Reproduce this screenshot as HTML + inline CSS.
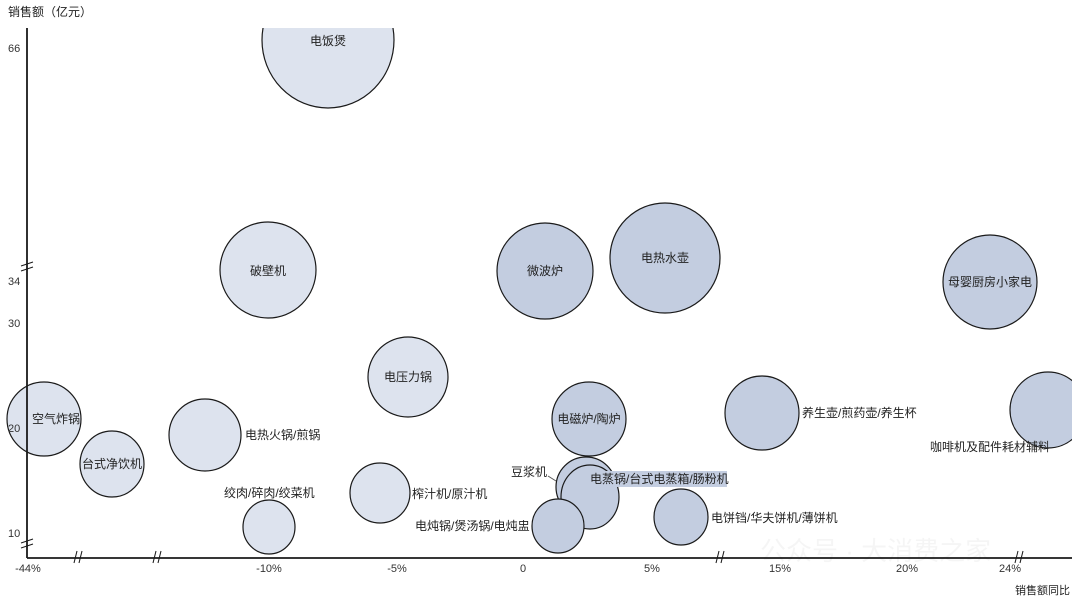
<!DOCTYPE html>
<html><head><meta charset="utf-8"><style>
html,body{margin:0;padding:0;background:#fff;}
svg{display:block;font-family:"Liberation Sans","Noto Sans CJK SC",sans-serif;}
</style></head><body>
<svg width="1080" height="605" viewBox="0 0 1080 605" xmlns="http://www.w3.org/2000/svg">
<defs><clipPath id="c"><rect x="0" y="28" width="1072" height="540"/></clipPath></defs>
<text x="8" y="16" font-size="12" fill="#222">销售额（亿元）</text>
<g clip-path="url(#c)" stroke="#1a1a1a" stroke-width="1.2">
<g fill="#dde3ee">
<ellipse cx="328" cy="40" rx="66" ry="68"/>
<circle cx="268" cy="270" r="48"/>
<circle cx="408" cy="377" r="40"/>
<circle cx="44" cy="419" r="37"/>
<circle cx="205" cy="435" r="36"/>
<ellipse cx="112" cy="464" rx="32" ry="33"/>
<circle cx="380" cy="493" r="30"/>
<ellipse cx="269" cy="527" rx="26" ry="27"/>
</g>
<g fill="#c3cde0">
<circle cx="545" cy="271" r="48"/>
<circle cx="665" cy="258" r="55"/>
<circle cx="990" cy="282" r="47"/>
<circle cx="589" cy="419" r="37"/>
<circle cx="762" cy="413" r="37"/>
<circle cx="1048" cy="410" r="38"/>
<circle cx="586" cy="487" r="30"/>
<ellipse cx="590" cy="497" rx="29" ry="32"/>
<ellipse cx="558" cy="526" rx="26" ry="27"/>
<ellipse cx="681" cy="517" rx="27" ry="28"/>
</g>
</g>
<line x1="548" y1="476" x2="556" y2="481" stroke="#555" stroke-width="1"/>
<rect x="588" y="471" width="139" height="16" fill="#c3cde0"/>
<g font-size="12" fill="#222">
<text x="328" y="45" text-anchor="middle">电饭煲</text>
<text x="268" y="275" text-anchor="middle">破壁机</text>
<text x="545" y="275" text-anchor="middle">微波炉</text>
<text x="665" y="262" text-anchor="middle">电热水壶</text>
<text x="990" y="286" text-anchor="middle">母婴厨房小家电</text>
<text x="408" y="381" text-anchor="middle">电压力锅</text>
<text x="56" y="423" text-anchor="middle">空气炸锅</text>
<text x="245" y="439">电热火锅/煎锅</text>
<text x="112" y="468" text-anchor="middle">台式净饮机</text>
<text x="589" y="423" text-anchor="middle">电磁炉/陶炉</text>
<text x="802" y="417">养生壶/煎药壶/养生杯</text>
<text x="930" y="451">咖啡机及配件耗材辅料</text>
<text x="412" y="498">榨汁机/原汁机</text>
<text x="224" y="497">绞肉/碎肉/绞菜机</text>
<text x="511" y="476">豆浆机</text>
<text x="590" y="483">电蒸锅/台式电蒸箱/肠粉机</text>
<text x="415" y="530">电炖锅/煲汤锅/电炖盅</text>
<text x="711" y="522">电饼铛/华夫饼机/薄饼机</text>
</g>
<g stroke="#1a1a1a" stroke-width="1.8">
<line x1="27" y1="28" x2="27" y2="558"/>
<line x1="27" y1="558" x2="1072" y2="558"/>
</g>
<g stroke="#1a1a1a" stroke-width="1" fill="none">
<line x1="21" y1="266" x2="33" y2="262"/><line x1="21" y1="271" x2="33" y2="267"/>
<line x1="21" y1="543" x2="33" y2="539"/><line x1="21" y1="548" x2="33" y2="544"/>
<line x1="74" y1="563" x2="77" y2="551"/><line x1="79" y1="563" x2="82" y2="551"/>
<line x1="153" y1="563" x2="156" y2="551"/><line x1="158" y1="563" x2="161" y2="551"/>
<line x1="716" y1="563" x2="719" y2="551"/><line x1="721" y1="563" x2="724" y2="551"/>
<line x1="1015" y1="563" x2="1018" y2="551"/><line x1="1020" y1="563" x2="1023" y2="551"/>
</g>
<g font-size="11" fill="#333">
<text x="8" y="52">66</text>
<text x="8" y="285">34</text>
<text x="8" y="327">30</text>
<text x="8" y="432">20</text>
<text x="8" y="537">10</text>
<g text-anchor="middle">
<text x="28" y="572">-44%</text>
<text x="269" y="572">-10%</text>
<text x="397" y="572">-5%</text>
<text x="523" y="572">0</text>
<text x="652" y="572">5%</text>
<text x="780" y="572">15%</text>
<text x="907" y="572">20%</text>
<text x="1010" y="572">24%</text>
</g>
</g>
<text x="1070" y="594" font-size="11" fill="#222" text-anchor="end">销售额同比</text>
<text x="760" y="560" font-size="26" fill="#000" fill-opacity="0.04">公众号 · 大消费之家</text>
</svg>
</body></html>
